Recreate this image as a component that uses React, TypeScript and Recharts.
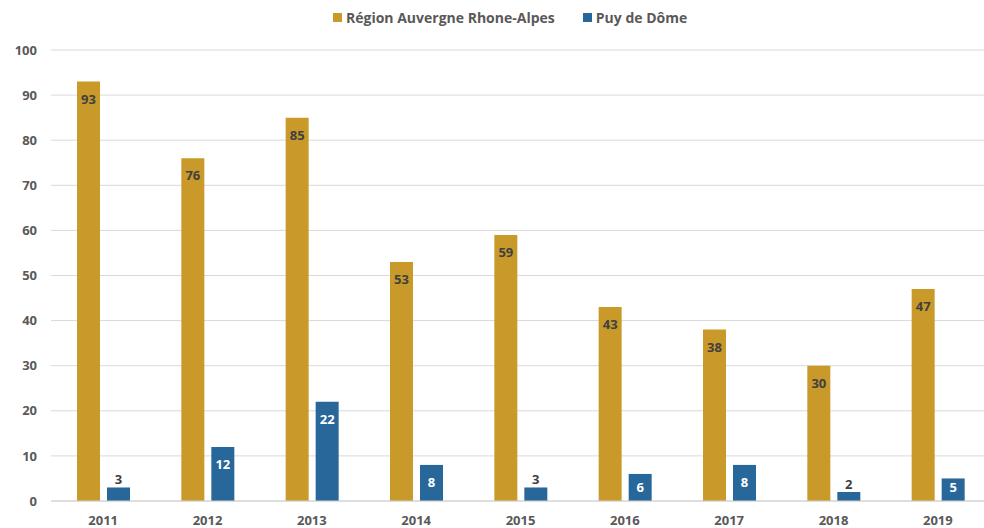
import React from "react";
import { BarChart, Bar, XAxis, YAxis, CartesianGrid, Legend, LabelList } from "recharts";

const years = ["2011", "2012", "2013", "2014", "2015", "2016", "2017", "2018", "2019"];
const regionValues = [93, 76, 85, 53, 59, 43, 38, 30, 47];
const puyValues = [3, 12, 22, 8, 3, 6, 8, 2, 5];
const yTicks = [0, 10, 20, 30, 40, 50, 60, 70, 80, 90, 100];

const REGION_NAME = "Région Auvergne Rhone-Alpes";
const PUY_NAME = "Puy de Dôme";
const GOLD = "#C99A2A";
const BLUE = "#28679A";
const FONT = "'Open Sans', sans-serif";

const data = years.map((y, i) => ({ year: y, region: regionValues[i], puy: puyValues[i] }));

const insideY = (y: number, height: number) => Math.min(y + 17.5, y + height - 14) + 4.7;

const GoldLabel = (props: any) => {
  const { x, y, width, height, value } = props;
  return (
    <text x={x + width / 2} y={insideY(y, height)} textAnchor="middle" fontFamily={FONT} fontWeight={700} fontSize={13} fill="#404040">
      {value}
    </text>
  );
};

const BlueLabel = (props: any) => {
  const { x, y, width, height, value } = props;
  const inside = value >= 5;
  return (
    <text
      x={x + width / 2}
      y={inside ? insideY(y, height) : y - 3}
      textAnchor="middle"
      fontFamily={FONT}
      fontWeight={700}
      fontSize={13}
      fill={inside ? "#ffffff" : "#404040"}
    >
      {value}
    </text>
  );
};

const LegendContent = () => (
  <div style={{ display: "flex", alignItems: "center", paddingLeft: 333, fontFamily: FONT, fontWeight: 700, fontSize: 14, color: "#595959" }}>
    <span style={{ display: "inline-block", width: 9, height: 9, background: GOLD, marginRight: 4 }} />
    <span style={{ marginRight: 28 }}>{REGION_NAME}</span>
    <span style={{ display: "inline-block", width: 9, height: 9, background: BLUE, marginRight: 4 }} />
    <span>{PUY_NAME}</span>
  </div>
);

export default function App() {
  return (
    <div style={{ position: "absolute", left: 0, top: 0, width: 984, height: 528, overflow: "hidden", background: "#fff" }}>
      <BarChart
        width={1000}
        height={528}
        data={data}
        margin={{ top: 50, right: 10, bottom: 0, left: 0 }}
        barCategoryGap="25%"
        barGap={7}
      >
        <CartesianGrid vertical={false} stroke="#d9d9d9" />
        <XAxis
          dataKey="year"
          height={27}
          tickLine={false}
          tickSize={6}
          tickMargin={9}
          axisLine={{ stroke: "#d0d0d0" }}
          tick={{ fontFamily: FONT, fontWeight: 700, fontSize: 13, fill: "#595959" }}
        />
        <YAxis
          width={51}
          domain={[0, 100]}
          ticks={yTicks}
          interval={0}
          tickLine={false}
          axisLine={false}
          tickSize={6}
          tickMargin={8}
          tick={{ fontFamily: FONT, fontWeight: 700, fontSize: 13, fill: "#595959" }}
        />
        <Legend
          verticalAlign="middle"
          align="center"
          content={<LegendContent />}
          wrapperStyle={{ top: 8, left: 0, width: 984, height: 20 }}
        />
        <Bar dataKey="region" name={REGION_NAME} fill={GOLD} barSize={23} isAnimationActive={false}>
          <LabelList dataKey="region" content={<GoldLabel />} />
        </Bar>
        <Bar dataKey="puy" name={PUY_NAME} fill={BLUE} barSize={23} isAnimationActive={false}>
          <LabelList dataKey="puy" content={<BlueLabel />} />
        </Bar>
      </BarChart>
    </div>
  );
}
